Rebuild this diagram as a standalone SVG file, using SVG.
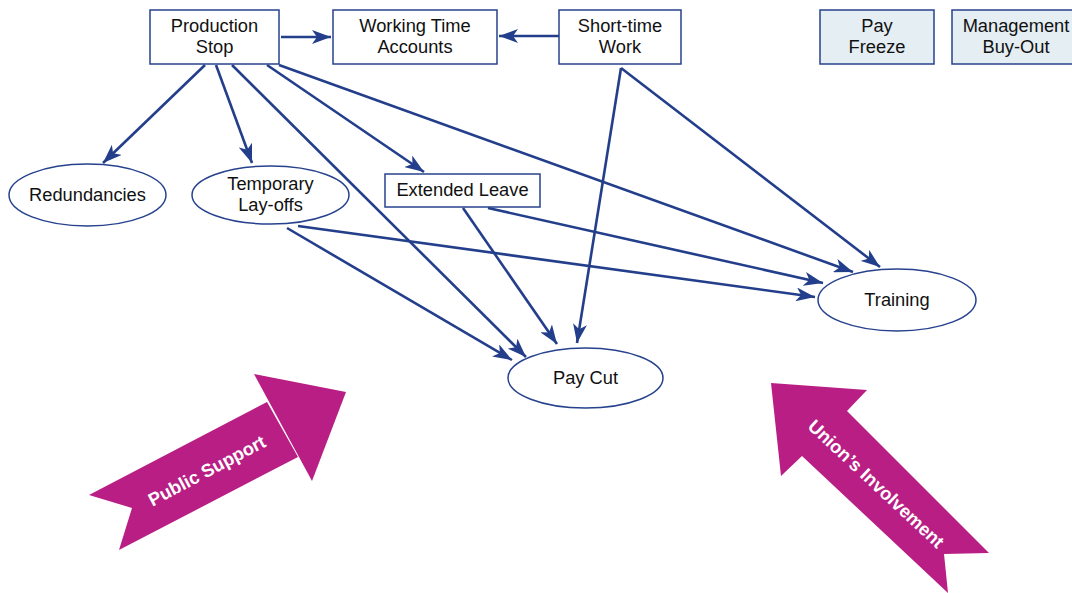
<svg xmlns="http://www.w3.org/2000/svg" width="1072" height="593" viewBox="0 0 1072 593">
<style>
.box{fill:#fff;stroke:#27428D;stroke-width:1.5}
.boxf{fill:#E4EEF3;stroke:#27428D;stroke-width:1.5}
.ell{fill:#fff;stroke:#27428D;stroke-width:1.5}
.t{font-family:"Liberation Sans",Arial,sans-serif;font-size:18.3px;fill:#111;text-anchor:middle}
.w{font-family:"Liberation Sans",Arial,sans-serif;font-size:18.3px;font-weight:bold;fill:#fff;text-anchor:middle}
.c{stroke:#233E8B;stroke-width:2.6;fill:none;marker-end:url(#ah)}
.band{fill:#B81E84}
</style>
<defs>
<marker id="ah" markerUnits="userSpaceOnUse" markerWidth="20" markerHeight="14" refX="19" refY="7" orient="auto" viewBox="0 0 20 14">
<path d="M19,7 L0,0 L5,7 L0,14 z" fill="#233E8B"/>
</marker>
</defs>
<g id="public-support">
<polygon class="band" points="89,495 267,402 298,457 119,550 132,508"/>
<polygon class="band" points="254,374 346,392 312,481"/>
<text class="w" transform="translate(207,471) rotate(-28)" y="6">Public Support</text>
</g>
<g id="unions-involvement">
<polygon class="band" points="771,383 867,390 847,411 989,553 944,554 948,593 802,456 781,476"/>
<text class="w" transform="translate(876,484) rotate(43)" y="6">Union’s Involvement</text>
</g>
<g id="connectors">
<line class="c" x1="281" y1="37" x2="331" y2="37"/>
<line class="c" x1="559" y1="36" x2="499" y2="36"/>
<line class="c" x1="205" y1="65" x2="103" y2="163"/>
<line class="c" x1="216" y1="65" x2="252" y2="163"/>
<line class="c" x1="232" y1="65" x2="526" y2="357"/>
<line class="c" x1="267" y1="65" x2="424" y2="172"/>
<line class="c" x1="279" y1="65" x2="853" y2="272"/>
<line class="c" x1="621" y1="68" x2="880" y2="267"/>
<line class="c" x1="621" y1="68" x2="577" y2="343"/>
<line class="c" x1="488" y1="208" x2="823" y2="283"/>
<line class="c" x1="463" y1="208" x2="557" y2="344"/>
<line class="c" x1="298" y1="226" x2="815" y2="297"/>
<line class="c" x1="287" y1="228" x2="512" y2="360"/>
</g>
<g id="production-stop">
<rect class="box" x="150" y="10" width="129" height="54"/>
<text class="t" x="214.5" y="32">Production</text>
<text class="t" x="214.5" y="53">Stop</text>
</g>
<g id="working-time-accounts">
<rect class="box" x="333" y="10" width="164" height="54"/>
<text class="t" x="415" y="32">Working Time</text>
<text class="t" x="415" y="53">Accounts</text>
</g>
<g id="short-time-work">
<rect class="box" x="559" y="10" width="122" height="54"/>
<text class="t" x="620" y="32">Short-time</text>
<text class="t" x="620" y="53">Work</text>
</g>
<g id="pay-freeze">
<rect class="boxf" x="820" y="10" width="114" height="54"/>
<text class="t" x="877" y="32">Pay</text>
<text class="t" x="877" y="53">Freeze</text>
</g>
<g id="management-buy-out">
<rect class="boxf" x="952" y="10" width="124" height="54"/>
<text class="t" x="1016" y="32">Management</text>
<text class="t" x="1016" y="53">Buy-Out</text>
</g>
<g id="redundancies">
<ellipse class="ell" cx="87.5" cy="195" rx="78.5" ry="31"/>
<text class="t" x="87.5" y="201">Redundancies</text>
</g>
<g id="temporary-lay-offs">
<ellipse class="ell" cx="270.5" cy="195" rx="78.5" ry="29"/>
<text class="t" x="270.5" y="190">Temporary</text>
<text class="t" x="270.5" y="211">Lay-offs</text>
</g>
<g id="extended-leave">
<rect class="box" x="385" y="174" width="155" height="33"/>
<text class="t" x="462.5" y="196">Extended Leave</text>
</g>
<g id="pay-cut">
<ellipse class="ell" cx="585.5" cy="378" rx="77.5" ry="30"/>
<text class="t" x="585.5" y="384">Pay Cut</text>
</g>
<g id="training">
<ellipse class="ell" cx="897" cy="300" rx="79" ry="31"/>
<text class="t" x="897" y="306">Training</text>
</g>
</svg>
